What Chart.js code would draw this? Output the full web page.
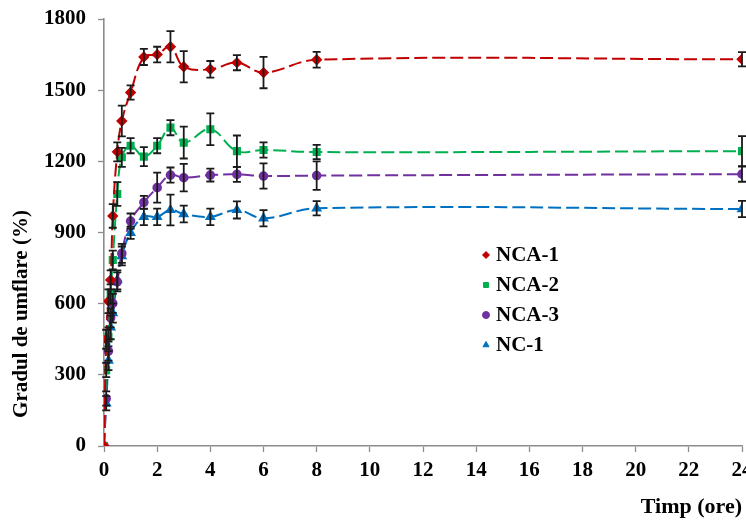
<!DOCTYPE html>
<html>
<head>
<meta charset="utf-8">
<script src="https://cdn.jsdelivr.net/npm/chart.js@4.4.1/dist/chart.umd.min.js"></script>
<style>
html,body{margin:0;padding:0;background:#fff;overflow:hidden;}
#wrap{position:relative;width:760px;height:520px;}
</style>
</head>
<body>
<div id="wrap"><canvas id="c"></canvas></div>
<script>
// ---- data ----
const times = [0, 0.083, 0.167, 0.25, 0.33, 0.5, 0.67, 1, 1.5, 2, 2.5, 3, 4, 5, 6, 8, 24];
const seriesNames = ['NCA-1', 'NCA-2', 'NCA-3', 'NC-1'];
const nca1 = [0, 450, 610, 700, 970, 1240, 1370, 1490, 1640, 1650, 1683, 1599, 1588, 1616, 1574, 1628, 1630];
const nca1Err = [0, 40, 50, 40, 50, 40, 65, 30, 34, 33, 66, 66, 35, 32, 66, 33, 30];
const nca2 = [0, 320, 460, 641, 784, 1062, 1217, 1266, 1220, 1266, 1342, 1279, 1335, 1243, 1248, 1239, 1243];
const nca2Err = [0, 30, 40, 40, 40, 50, 40, 32, 40, 32, 32, 67, 67, 66, 32, 30, 63];
const nca3 = [0, 200, 400, 540, 601, 692, 812, 948, 1027, 1089, 1142, 1131, 1142, 1145, 1138, 1140, 1146];
const nca3Err = [0, 30, 40, 40, 40, 40, 40, 32, 27, 63, 32, 58, 27, 32, 53, 60, 32];
const nc1 = [0, 180, 360, 500, 560, 700, 801, 899, 966, 966, 995, 978, 966, 995, 960, 1002, 999];
const nc1Err = [0, 30, 40, 50, 40, 40, 40, 26, 35, 35, 65, 35, 35, 36, 34, 30, 34];
const xTicks = [0, 2, 4, 6, 8, 10, 12, 14, 16, 18, 20, 22, 24];
const yTicks = [0, 300, 600, 900, 1200, 1500, 1800];
const yTitle = 'Gradul de umflare (%)';
const xTitle = 'Timp (ore)';

const colors = ['#C00000', '#00B050', '#7030A0', '#0070C0'];
const styles = ['rectRot', 'rect', 'circle', 'triangle'];
const values = [nca1, nca2, nca3, nc1];
const errors = [nca1Err, nca2Err, nca3Err, nc1Err];

const FONT = '"Liberation Serif", "Times New Roman", serif';

const datasets = values.map((vals, k) => ({
  label: seriesNames[k],
  data: times.map((t, i) => ({x: t, y: vals[i]})),
  borderColor: colors[k],
  backgroundColor: colors[k],
  borderWidth: 2,
  borderDash: [13, 5],
  tension: 0.4,
  pointStyle: styles[k],
  pointRadius: k === 2 ? 3.8 : 4.3,
  pointBorderColor: colors[k],
  pointBackgroundColor: colors[k],
  showLine: true,
  errs: errors[k]
}));

const errorBars = {
  id: 'errorBars',
  afterDatasetsDraw(chart) {
    const ctx = chart.ctx, xs = chart.scales.x, ys = chart.scales.y;
    ctx.save();
    ctx.strokeStyle = '#1a1a1a';
    ctx.lineWidth = 1.8;
    chart.data.datasets.forEach(ds => {
      ds.data.forEach((p, i) => {
        const e = ds.errs[i];
        if (!e) return;
        const x = xs.getPixelForValue(p.x);
        const y1 = ys.getPixelForValue(p.y + e);
        const y2 = ys.getPixelForValue(p.y - e);
        ctx.beginPath();
        ctx.moveTo(x, y1); ctx.lineTo(x, y2);
        ctx.moveTo(x - 4, y1); ctx.lineTo(x + 4, y1);
        ctx.moveTo(x - 4, y2); ctx.lineTo(x + 4, y2);
        ctx.stroke();
      });
    });
    ctx.restore();
  }
};

const legendBox = {
  id: 'legendBox',
  afterDraw(chart) {
    const ctx = chart.ctx;
    const rows = [255, 285, 315, 345];
    ctx.save();
    chart.data.datasets.forEach((ds, k) => {
      const y = rows[k];
      ctx.fillStyle = ds.pointBackgroundColor;
      ctx.strokeStyle = ds.pointBorderColor;
      Chart.helpers.drawPoint(ctx, {pointStyle: ds.pointStyle, radius: 3.5, borderWidth: 1}, 486, y);
      ctx.fillStyle = '#000';
      ctx.font = 'bold 21px ' + FONT;
      ctx.textBaseline = 'middle';
      ctx.textAlign = 'left';
      ctx.fillText(ds.label, 496, y + 1);
    });
    // y axis title (placed below the axis centre as in the original)
    ctx.translate(22, 314);
    ctx.rotate(-Math.PI / 2);
    ctx.font = 'bold 21px ' + FONT;
    ctx.textAlign = 'center';
    ctx.textBaseline = 'middle';
    ctx.fillText(yTitle, 0, 0);
    ctx.restore();
  }
};

new Chart(document.getElementById('c'), {
  type: 'scatter',
  data: {datasets},
  options: {
    responsive: true,
    maintainAspectRatio: false,
    animation: false,
    layout: {padding: {left: 0, right: 18, top: 19, bottom: 0}},
    plugins: {legend: {display: false}, tooltip: {enabled: false}},
    scales: {
      x: {
        type: 'linear', min: 0, max: 24,
        afterBuildTicks(s) { s.ticks = xTicks.map(v => ({value: v})); },
        afterFit(s) { s.height = 74; },
        grid: {drawOnChartArea: false, color: '#8c8c8c', tickLength: 6, tickWidth: 1.3},
        border: {color: '#8c8c8c', width: 1.6},
        ticks: {color: '#000', font: {family: FONT, size: 21, weight: 'bold'}, padding: 6, maxRotation: 0,
                callback: v => String(v)},
        title: {display: true, text: xTitle, align: 'end', color: '#000',
                font: {family: FONT, size: 22, weight: 'bold'}, padding: {top: 0, bottom: -1}}
      },
      y: {
        type: 'linear', min: 0, max: 1800,
        afterBuildTicks(s) { s.ticks = yTicks.map(v => ({value: v})); },
        afterFit(s) { s.width = 104; s.paddingTop = 0; s.paddingBottom = 0; },
        grid: {drawOnChartArea: false, color: '#8c8c8c', tickLength: 6, tickWidth: 1.3},
        border: {color: '#8c8c8c', width: 1.6},
        ticks: {color: '#000', font: {family: FONT, size: 21, weight: 'bold'}, padding: 12,
                callback: v => String(v)},
        title: {display: false}
      }
    }
  },
  plugins: [errorBars, legendBox]
});
</script>
</body>
</html>
